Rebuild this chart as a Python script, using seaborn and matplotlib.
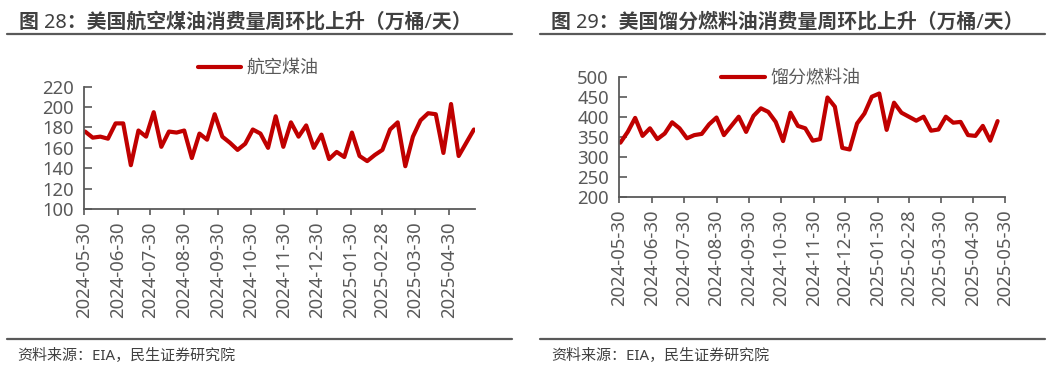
import matplotlib
matplotlib.use("Agg")
import matplotlib.pyplot as plt
import matplotlib.dates as mdates
from matplotlib.lines import Line2D
import seaborn as sns
import pandas as pd

# ---- data ----
dates = pd.date_range("2024-05-31", periods=52, freq="7D")
jet_fuel = [176, 170, 171, 169, 184, 184, 143, 177, 171, 195,
            161, 176, 175, 177, 150, 174, 168, 193, 171, 165,
            158, 164, 178, 174, 160, 191, 161, 185, 171, 182,
            160, 173, 149, 156, 151, 175, 152, 147, 153, 158,
            178, 185, 142, 171, 187, 194, 193, 155, 203, 152,
            165, 178]
distillate = [335, 362, 397, 352, 371, 344, 358, 386, 371, 346,
              354, 357, 381, 398, 354, 377, 400, 362, 402, 421,
              412, 387, 339, 410, 377, 371, 340, 344, 448, 425,
              322, 318, 383, 408, 450, 458, 367, 435, 410, 400,
              390, 400, 365, 368, 400, 385, 387, 354, 352, 377,
              340, 389]
tick_dates_left = ["2024-05-30", "2024-06-30", "2024-07-30", "2024-08-30",
                   "2024-09-30", "2024-10-30", "2024-11-30", "2024-12-30",
                   "2025-01-30", "2025-02-28", "2025-03-30", "2025-04-30"]
tick_dates_right = tick_dates_left + ["2025-05-30"]
titles = ["图 28：美国航空煤油消费量周环比上升（万桶/天）",
          "图 29：美国馏分燃料油消费量周环比上升（万桶/天）"]
series_names = ["航空煤油", "馏分燃料油"]
source = "资料来源：EIA，民生证券研究院"

sns.set_theme(style="white")
plt.rcParams["font.family"] = ["Noto Sans", "Noto Sans CJK SC", "DejaVu Sans"]

RED = "#C00000"
GRAY = "#595959"
TXT = "#404040"

W, H = 1053, 370
fig = plt.figure(figsize=(W / 100, H / 100), dpi=100)
fig.patch.set_facecolor("white")

def px(x0, y0, x1, y1):
    return [x0 / W, 1 - y1 / H, (x1 - x0) / W, (y1 - y0) / H]

ax1 = fig.add_axes(px(84, 86.7, 475, 209))
ax2 = fig.add_axes(px(619.3, 76.7, 1005, 196.7))

df1 = pd.DataFrame({"date": dates, "value": jet_fuel})
df2 = pd.DataFrame({"date": dates, "value": distillate})

sns.lineplot(data=df1, x="date", y="value", ax=ax1, color=RED, linewidth=3,
             label=series_names[0])
sns.lineplot(data=df2, x="date", y="value", ax=ax2, color=RED, linewidth=3,
             label=series_names[1])

configs = [
    (ax1, (100, 220), range(100, 221, 20), tick_dates_left,
     ("2024-05-30", "2025-05-24"), (0.245, 0.816)),
    (ax2, (200, 500), range(200, 501, 50), tick_dates_right,
     ("2024-05-30", "2025-05-30"), (0.751, 0.789)),
]
for ax, ylim, yt, xt, xl, legpos in configs:
    ax.set_ylim(*ylim)
    ax.set_yticks(list(yt))
    ax.set_xlim(pd.Timestamp(xl[0]), pd.Timestamp(xl[1]))
    ax.set_xticks([pd.Timestamp(d) for d in xt])
    ax.xaxis.set_major_formatter(mdates.DateFormatter("%Y-%m-%d"))
    ax.set_xlabel("")
    ax.set_ylabel("")
    for s in ["top", "right"]:
        ax.spines[s].set_visible(False)
    for s in ["left", "bottom"]:
        ax.spines[s].set_color(GRAY)
        ax.spines[s].set_linewidth(1.3)
    ax.tick_params(axis="y", direction="in", length=6, width=1.2, color=GRAY,
                   labelsize=13.3, labelcolor=GRAY, pad=7.5, left=True)
    ax.tick_params(axis="x", direction="out", length=4, width=1.2, color=GRAY,
                   labelsize=13.3, labelcolor=GRAY, pad=5, rotation=90, bottom=True)
    ax.set_facecolor("white")
    ax.grid(False)
    leg = ax.legend(loc="center", bbox_to_anchor=legpos, bbox_transform=fig.transFigure,
                    frameon=False, fontsize=13, handlelength=2.4, handletextpad=0.3)
    for t in leg.get_texts():
        t.set_color(GRAY)

# titles, rules, sources
fig.text(19 / W, 1 - 22.5 / H, titles[0], fontsize=14.3, fontweight="bold",
         color=TXT, va="center", ha="left")
fig.text(551 / W, 1 - 22.5 / H, titles[1], fontsize=14.3, fontweight="bold",
         color=TXT, va="center", ha="left")
for (x0, x1) in [(7, 512), (540, 1045)]:
    fig.add_artist(Line2D([x0 / W, x1 / W], [1 - 34.3 / H] * 2, color=GRAY, lw=1.6,
                          transform=fig.transFigure))
    fig.add_artist(Line2D([x0 / W, x1 / W], [1 - 339 / H] * 2, color=GRAY, lw=1.6,
                          transform=fig.transFigure))
fig.text(17 / W, 1 - 356.5 / H, source, fontsize=10.8, color=TXT, va="center", ha="left")
fig.text(551 / W, 1 - 356.5 / H, source, fontsize=10.8, color=TXT, va="center", ha="left")

fig.savefig("out.png", dpi=100, facecolor="white")
